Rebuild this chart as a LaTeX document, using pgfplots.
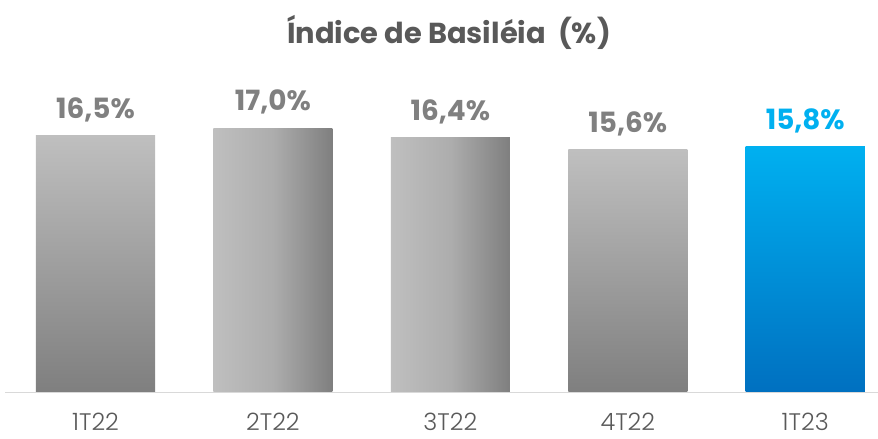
\documentclass[border=0pt]{standalone}
\usepackage{pgfplots}
\pgfplotsset{compat=1.18}
\usepackage{fontspec}
\setmainfont{Poppins}
\newfontfamily\plight{Poppins Light}
\definecolor{titlegray}{HTML}{595959}
\definecolor{valgray}{HTML}{808080}
\definecolor{lightg}{HTML}{BFBFBF}
\definecolor{darkg}{HTML}{7F7F7F}
\definecolor{midg}{HTML}{ADADAD}
\definecolor{blueT}{HTML}{00B0F0}
\definecolor{blueB}{HTML}{0070C0}
\definecolor{axisg}{HTML}{D9D9D9}
\begin{document}
\begin{tikzpicture}
\useasboundingbox (0,0) rectangle (878bp,439bp);
\begin{axis}[
  at={(5bp,47bp)}, anchor=south west,
  scale only axis, width=873bp, height=292bp,
  xmin=-0.51, xmax=4.41, ymin=0, ymax=18.81,
  axis x line*=bottom, axis y line=none,
  x axis line style={draw=axisg, line width=1pt, -},
  xtick={0,1,2,3,4},
  xticklabels={1T22,2T22,3T22,4T22,1T23},
  xtick style={draw=none},
  xticklabel style={font=\plight\fontsize{24}{28}\selectfont, text=titlegray, inner sep=0pt, yshift=-21bp},
  bar width=0.671,
  /pgf/number format/assume math mode=true,
  nodes near coords={\pgfmathprintnumber[fixed,fixed zerofill,precision=1,use comma]{\pgfplotspointmeta}\%},
  every node near coord/.append style={font=\bfseries\fontsize{28}{32}\selectfont, text=valgray, anchor=south, yshift=10bp},
]
\addplot[ybar, bar shift=0pt, draw=none, top color=lightg, bottom color=darkg] coordinates {(0,16.5)};
\addplot[ybar, bar shift=0pt, draw=none, left color=lightg, right color=darkg, middle color=midg] coordinates {(1,17.0)};
\addplot[ybar, bar shift=0pt, draw=none, left color=lightg, right color=darkg, middle color=midg] coordinates {(2,16.4)};
\addplot[ybar, bar shift=0pt, draw=none, top color=lightg, bottom color=darkg] coordinates {(3,15.6)};
\addplot[ybar, bar shift=0pt, draw=none, top color=blueT, bottom color=blueB,
  every node near coord/.append style={text=blueT}] coordinates {(4,15.8)};
\end{axis}
\node[font=\bfseries\fontsize{29}{33}\selectfont, text=titlegray] at (449bp,407bp) {Índice de Basiléia~~(\%)};
\end{tikzpicture}
\end{document}
